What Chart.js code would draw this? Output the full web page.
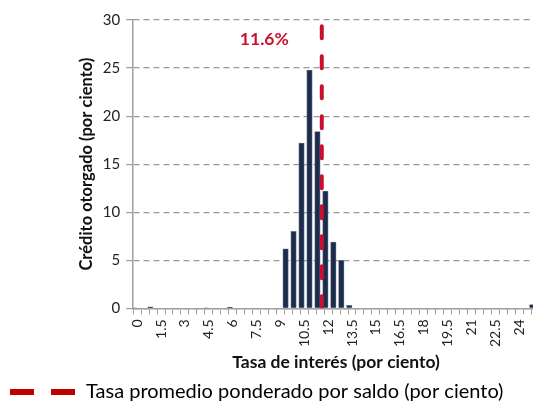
<!DOCTYPE html>
<html>
<head>
<meta charset="utf-8">
<script src="https://cdn.jsdelivr.net/npm/chart.js@4.4.1/dist/chart.umd.min.js"></script>
<style>
html,body{margin:0;padding:0;background:#fff;overflow:hidden;}
#wrap{width:541px;height:412px;}
</style>
</head>
<body>
<div id="wrap"><canvas id="c" width="541" height="412"></canvas></div>
<script>
// Interest-rate bins (per cent), 0 to 25 in steps of 0.5
const rateBins = ["0","0.5","1","1.5","2","2.5","3","3.5","4","4.5","5","5.5","6","6.5","7","7.5","8","8.5","9","9.5","10","10.5","11","11.5","12","12.5","13","13.5","14","14.5","15","15.5","16","16.5","17","17.5","18","18.5","19","19.5","20","20.5","21","21.5","22","22.5","23","23.5","24","24.5","25"];
// Share of credit granted (per cent)
const creditShare = [0.05,0,0.15,0,0,0,0,0,0,0.05,0,0,0.1,0,0,0,0,0,0,6.2,8.0,17.2,24.8,18.4,12.2,6.9,5.0,0.3,0,0,0,0,0,0,0,0,0,0,0,0,0,0,0,0,0,0,0,0,0,0,0.4];
// Weighted average rate by balance
const avgRate = 11.6;
const yTicks = [0,5,10,15,20,25,30];

const FONT = "Lato, 'Open Sans', sans-serif";
const RED = '#C8102E';

const labelPlugin = {
  id: 'avgLabel',
  afterDatasetsDraw(chart) {
    const xs = chart.scales.x2, ys = chart.scales.y;
    const ctx = chart.ctx;
    ctx.save();
    ctx.font = "bold 17.5px " + FONT;
    ctx.fillStyle = RED;
    ctx.textAlign = 'right';
    ctx.textBaseline = 'middle';
    ctx.fillText(avgRate.toFixed(1) + '%', xs.getPixelForValue(avgRate) - 33, ys.getPixelForValue(28));
    ctx.restore();
  }
};

new Chart(document.getElementById('c'), {
  data: {
    labels: rateBins,
    datasets: [
      {
        type: 'bar',
        label: 'Crédito otorgado',
        data: creditShare,
        backgroundColor: '#1C2C4C',
        borderColor: '#6b7588',
        borderWidth: 0.8,
        barThickness: 5.5,
        xAxisID: 'x',
        order: 2
      },
      {
        type: 'line',
        label: 'Tasa promedio ponderado por saldo (por ciento)',
        data: [{x: avgRate, y: 0}, {x: avgRate, y: 30}],
        xAxisID: 'x2',
        borderColor: RED,
        backgroundColor: RED,
        borderWidth: 4,
        borderDash: [12, 18],
        borderCapStyle: 'round',
        pointRadius: 0,
        fill: false,
        order: 1
      }
    ]
  },
  plugins: [labelPlugin],
  options: {
    responsive: false,
    animation: false,
    devicePixelRatio: 1,
    layout: {autoPadding: false, padding: {top: 20, right: 2, left: 7, bottom: 0}},
    plugins: {
      tooltip: {enabled: false},
      legend: {
        position: 'bottom',
        align: 'start',
        labels: {
          usePointStyle: true,
          pointStyle: 'line',
          pointStyleWidth: 66,
          boxHeight: 6,
          font: {family: FONT, size: 20},
          color: '#222',
          padding: 3,
          generateLabels: (chart) => [{
            text: 'Tasa promedio ponderado por saldo (por ciento)',
            fillStyle: '#C00000',
            strokeStyle: '#C00000',
            lineWidth: 6,
            lineDash: [24, 17],
            pointStyle: 'line',
            datasetIndex: 1,
            hidden: false
          }]
        }
      }
    },
    scales: {
      x: {
        type: 'category',
        offset: true,
        afterFit: (scale) => { scale.paddingLeft = 0; scale.paddingRight = 0; },
        grid: {
          display: true,
          offset: true,
          drawOnChartArea: false,
          drawTicks: true,
          tickLength: 6,
          color: '#a0a0a0'
        },
        border: {display: true, color: '#a0a0a0', width: 1.5},
        ticks: {
          autoSkip: false,
          maxRotation: 90,
          minRotation: 90,
          padding: 5,
          color: '#222',
          font: {family: FONT, size: 14},
          callback: function(v, i) { return i % 3 === 0 ? rateBins[i] : ''; }
        },
        title: {
          display: true,
          text: 'Tasa de interés (por ciento)',
          font: {family: FONT, size: 17.5, weight: 'bold'},
          color: '#111',
          padding: {top: 0, bottom: 6}
        }
      },
      x2: {
        type: 'linear',
        display: false,
        min: -0.25,
        max: 25.25
      },
      y: {
        min: 0,
        max: 30,
        afterBuildTicks: (axis) => { axis.ticks = yTicks.map(v => ({value: v})); },
        grid: {
          color: '#999',
          lineWidth: 1.2,
          tickLength: 7,
          tickBorderDash: [],
          drawTicks: true
        },
        border: {display: true, color: '#a0a0a0', width: 1.5, dash: [6, 4]},
        ticks: {
          padding: 6,
          color: '#222',
          font: {family: FONT, size: 15}
        },
        title: {
          display: true,
          text: 'Crédito otorgado (por ciento)',
          font: {family: FONT, size: 16.5, weight: 'bold'},
          color: '#111',
          padding: {top: 70, bottom: 0}
        }
      }
    }
  }
});
</script>
</body>
</html>
